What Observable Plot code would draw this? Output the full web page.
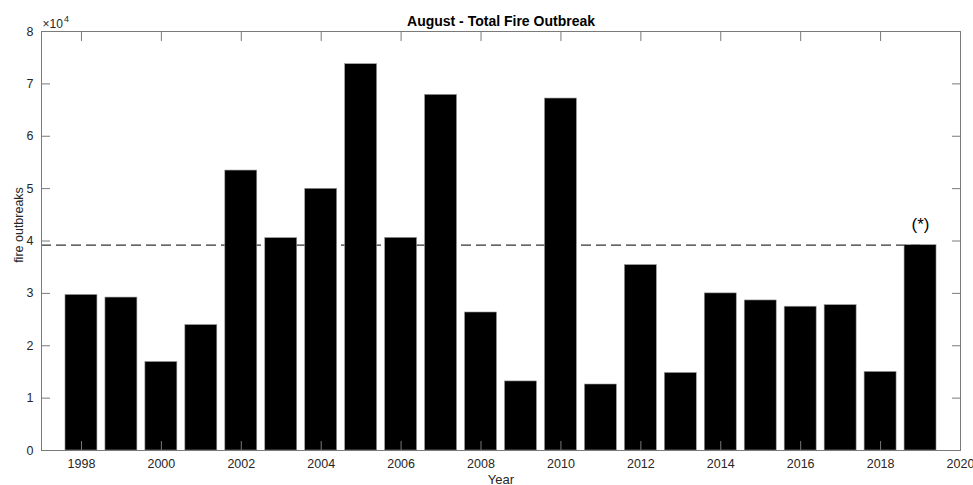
<!DOCTYPE html>
<html>
<head>
<meta charset="utf-8">
<script src="https://cdn.jsdelivr.net/npm/d3@7"></script>
<script src="https://cdn.jsdelivr.net/npm/@observablehq/plot@0.6"></script>
<style>
  html, body { margin: 0; padding: 0; background: #fff; }
</style>
</head>
<body>
<div id="chart"></div>
<script>
// August fire outbreak totals per year
const years = [1998, 1999, 2000, 2001, 2002, 2003, 2004, 2005, 2006, 2007, 2008,
               2009, 2010, 2011, 2012, 2013, 2014, 2015, 2016, 2017, 2018, 2019];
const outbreaks = [29700, 29200, 16900, 23950, 53450, 40550, 49960, 73760, 40600, 67900, 26350,
                   13190, 67200, 12600, 35400, 14800, 30000, 28650, 27450, 27750, 15000, 39200];

// Year flagged with "(*)" and the dashed level drawn up to it
const flaggedYear = 2019;
const flaggedMark = "(*)";
const referenceLevel = 39200;

// Axis ticks
const xTicks = [1998, 2000, 2002, 2004, 2006, 2008, 2010, 2012, 2014, 2016, 2018, 2020];
const yTicks = [0, 10000, 20000, 30000, 40000, 50000, 60000, 70000, 80000];
const xDomain = [1997, 2020];
const yDomain = [0, 80000];

const titleText = "August - Total Fire Outbreak";
const xLabel = "Year";
const yLabel = "fire outbreaks";

const data = years.map((year, i) => ({year, value: outbreaks[i]}));
const flagged = data.filter(d => d.year === flaggedYear);

const axisColor = "#7a7a7a";
const textColor = "#262626";
const barWidth = 0.8;
const tickFont = 12.5;

const chart = Plot.plot({
  width: 973,
  height: 485,
  marginLeft: 41,
  marginRight: 13,
  marginTop: 31,
  marginBottom: 35,
  style: {
    fontFamily: "'Liberation Sans', Arial, sans-serif",
    fontSize: "12px",
    color: textColor,
    background: "#fff",
    overflow: "visible"
  },
  x: {type: "linear", domain: xDomain},
  y: {type: "linear", domain: yDomain},
  marks: [
    // dashed reference level, running under the bars
    Plot.ruleY([referenceLevel], {
      x1: xDomain[0], x2: flaggedYear,
      stroke: "#333", strokeWidth: 1.2, strokeDasharray: "10,5"
    }),
    Plot.rectY(data, {
      x1: d => d.year - barWidth / 2,
      x2: d => d.year + barWidth / 2,
      y1: 0,
      y2: "value",
      fill: "#000",
      stroke: "#9a9a9a",
      strokeWidth: 0.6
    }),
    Plot.text(flagged, {
      x: "year", y: "value", text: () => flaggedMark,
      dy: -21, lineAnchor: "middle", fontSize: 17, fill: "#000"
    }),
    // box axes with inward ticks
    Plot.frame({stroke: axisColor, strokeWidth: 1}),
    Plot.axisX({
      anchor: "bottom", ticks: xTicks, tickFormat: d => String(d),
      tickSize: -9, tickPadding: 18, stroke: axisColor, label: null,
      fontSize: tickFont, fill: textColor
    }),
    Plot.axisX({
      anchor: "top", ticks: xTicks, tickFormat: () => "",
      tickSize: -9, stroke: axisColor, label: null
    }),
    Plot.axisY({
      anchor: "left", ticks: yTicks, tickFormat: d => String(d / 10000),
      tickSize: -9, tickPadding: 17, stroke: axisColor, label: null,
      fontSize: tickFont, fill: textColor
    }),
    Plot.axisY({
      anchor: "right", ticks: yTicks, tickFormat: () => "",
      tickSize: -9, stroke: axisColor, label: null
    }),
    // exponent note above the y axis
    Plot.text(["×10"], {
      frameAnchor: "top-left", text: d => d, textAnchor: "start",
      dx: 1, dy: -4, lineAnchor: "bottom", fontSize: 12, fill: textColor
    }),
    Plot.text(["4"], {
      frameAnchor: "top-left", text: d => d, textAnchor: "start",
      dx: 22.5, dy: -10, lineAnchor: "bottom", fontSize: 9, fill: textColor
    }),
    // title and axis labels
    Plot.text([titleText], {
      frameAnchor: "top", text: d => d, dy: -6, lineAnchor: "bottom",
      fontSize: 14, fontWeight: "bold", fill: "#000"
    }),
    Plot.text([xLabel], {
      frameAnchor: "bottom", text: d => d, dy: 24, lineAnchor: "top",
      fontSize: 13, fill: textColor
    }),
    Plot.text([yLabel], {
      frameAnchor: "left", text: d => d, dx: -23, dy: -16, rotate: -90,
      lineAnchor: "middle", textAnchor: "middle", fontSize: 12.5, fill: textColor
    })
  ]
});

document.getElementById("chart").append(chart);
</script>
</body>
</html>
